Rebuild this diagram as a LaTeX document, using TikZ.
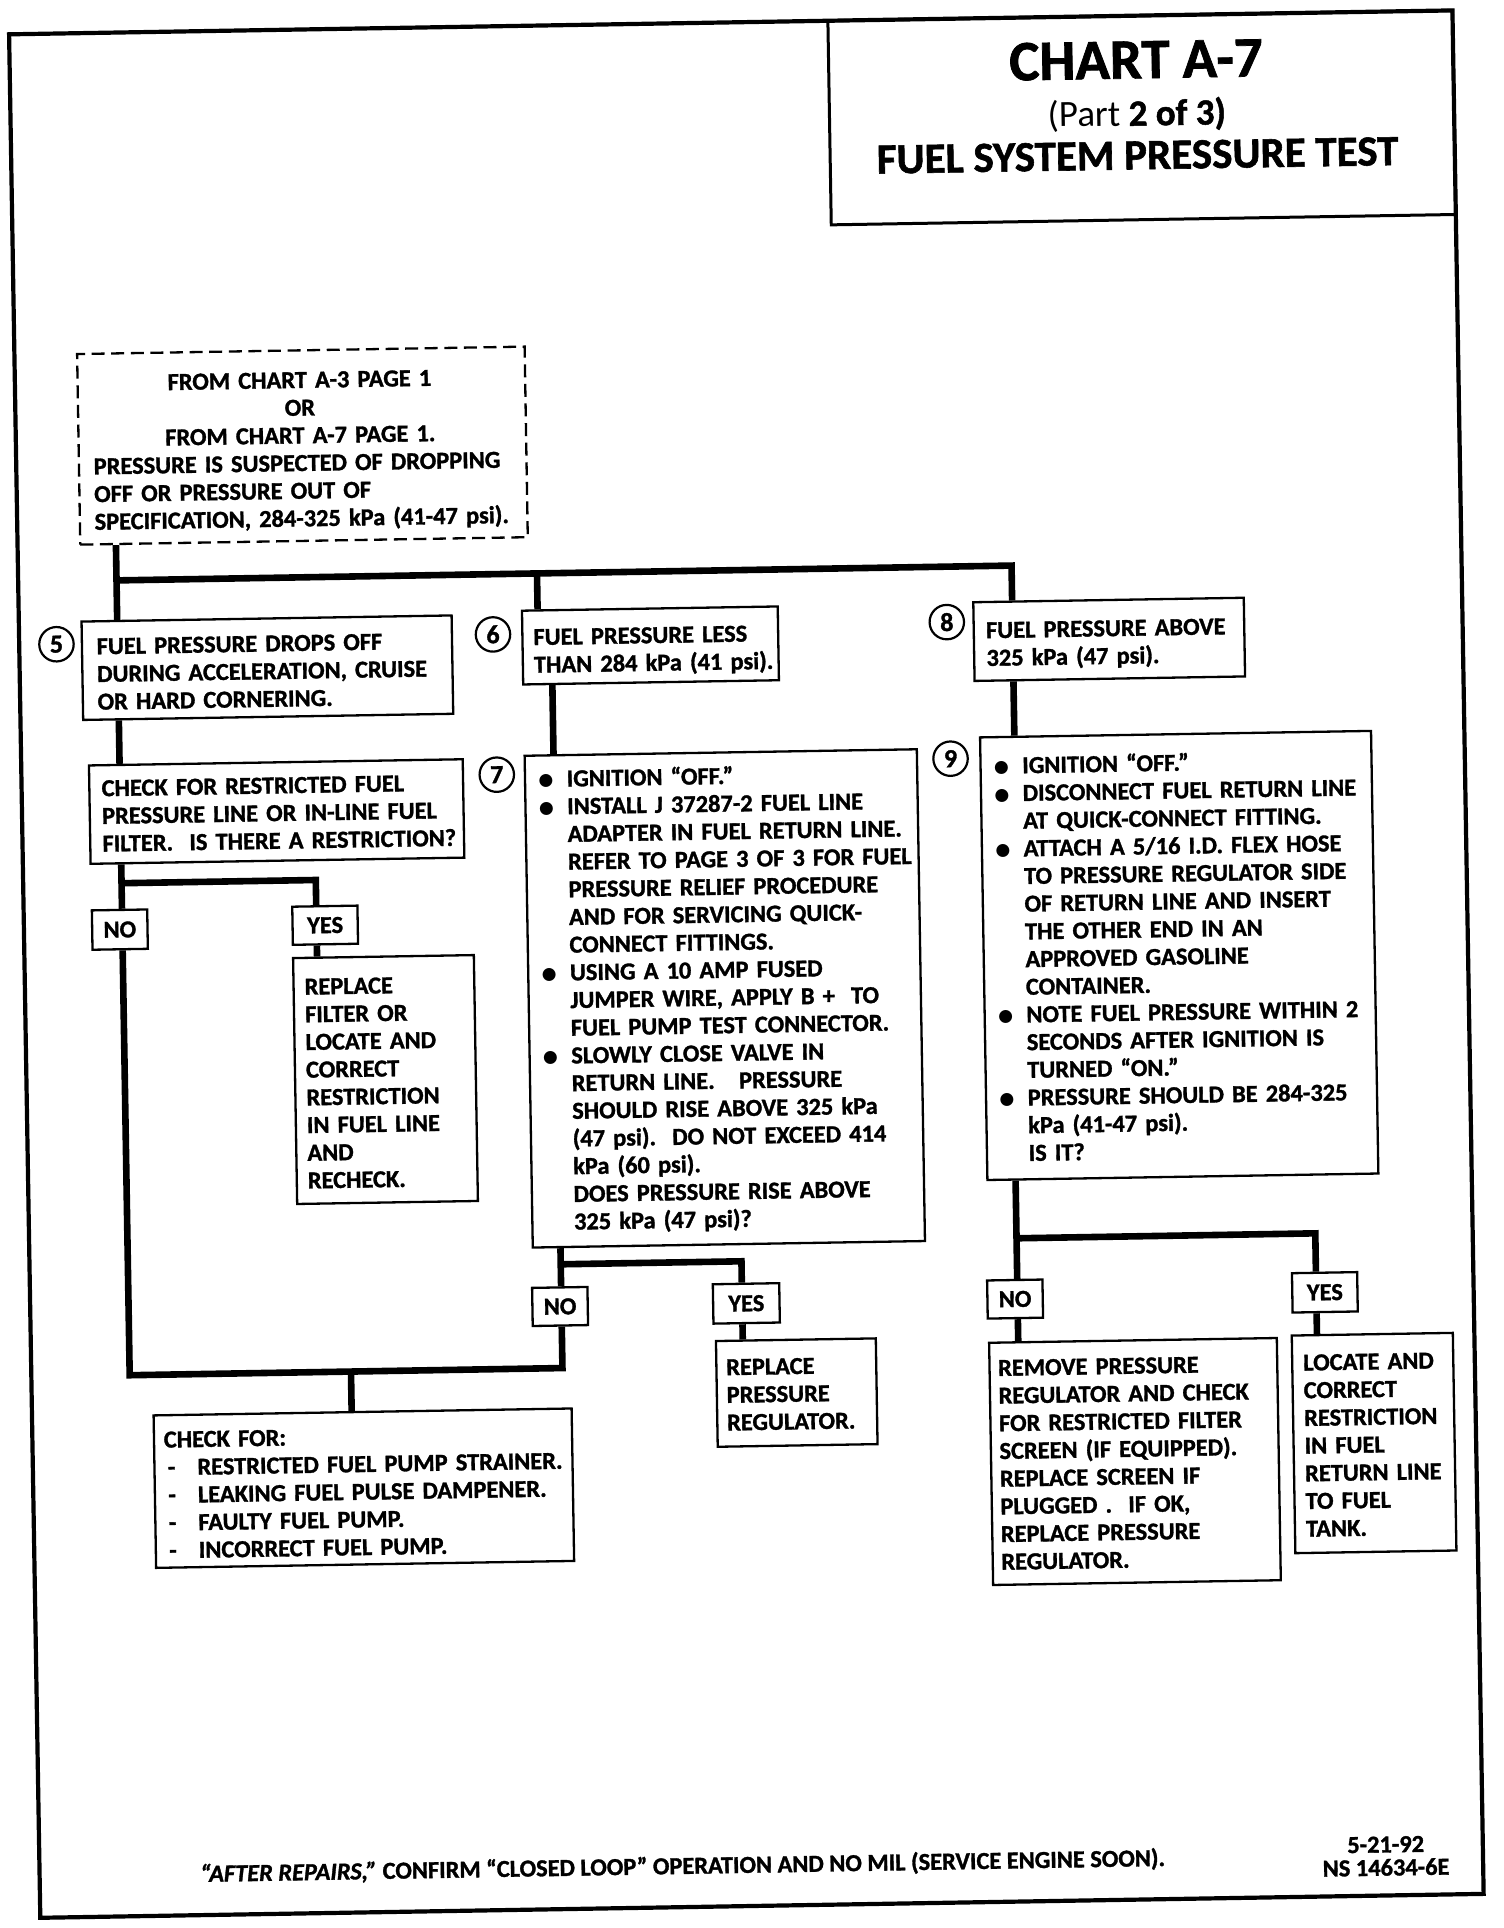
\documentclass[tikz,border=0pt]{standalone}
\usepackage{fontspec}
\setmainfont{Carlito}[BoldFeatures={FakeBold=1.3}, BoldItalicFeatures={FakeBold=1.3}]
\newfontfamily\symfont{DejaVu Sans}
\usetikzlibrary{calc}
\newcommand\tb[2][2.3pt]{\raisebox{-#1}[\height][\depth]{\begin{tabular}{@{}l@{}}#2\end{tabular}}}
\newcommand\bul{\makebox[14.1pt][l]{\raisebox{0.7pt}{\symfont\fontsize{8.5}{8.5}\selectfont ●}}}
\newcommand\ind{\hspace*{14.1pt}}
\newcommand\dsh{\makebox[16.6pt][l]{\hspace*{1.8pt}-}}
\newcommand\cl[1]{\multicolumn{1}{@{}c@{}}{#1}}
\tikzset{
  every node/.style={font=\bfseries\fontsize{12.2}{13.85}\selectfont},
  box/.style={draw, line width=1.15pt, fill=white, inner sep=0pt, align=left},
  wh/.style n args={3}{minimum width=#1*0.6149pt, minimum height=#2*0.6149pt, text width={(#1-2*#3)*0.6149pt}},
  lab/.style 2 args={draw, line width=1.15pt, fill=white, inner sep=0pt, align=center,
    minimum width=#1*0.6149pt, minimum height=#2*0.6149pt},
  conn/.style={line width=3.3pt},
  num/.style={circle, draw, line width=1.1pt, minimum size=28*0.6149pt, inner sep=0pt,
    font=\bfseries\fontsize{13}{14}\selectfont},
  ttl/.style={anchor=base, inner sep=0pt},
}
\begin{document}
\begin{tikzpicture}[x=0.6149pt,y=-0.6149pt]
\fill[white] (0,0) rectangle (1223,1568);
\useasboundingbox (0,0) rectangle (1223,1568);
\begin{scope}[transform canvas={rotate around={0.95:(611.5,784)}}]
% frame and title box
\draw[line width=2.1pt] (20,18) rectangle (1194,1550);
\node[draw, line width=1.5pt, minimum width=508*0.6149pt, minimum height=166*0.6149pt, inner sep=0pt] (tbox) at (940,101) {};
\node[ttl, font=\bfseries\fontsize{28.5}{30}\selectfont] (ttla) at (936,69) {CHART A-7};
\node[ttl, font=\fontsize{18.5}{20}\selectfont] (ttlb) at (936,107.5) {(Part \textbf{2 of 3)}};
\node[ttl, font=\bfseries\fontsize{21.5}{23}\selectfont] (ttlc) at (936,143) {FUEL SYSTEM PRESSURE TEST};

% boxes
\node[box, dashed, dash pattern=on 6.5pt off 3.3pt, wh={364}{155}{12}] (D) at (253,356.4) {\tb[3pt]{\cl{FROM CHART A-3 PAGE 1}\\ \cl{OR}\\ \cl{FROM CHART A-7 PAGE 1.}\\ PRESSURE IS SUSPECTED OF DROPPING\\ OFF OR PRESSURE OUT OF\\ SPECIFICATION, 284-325 kPa (41-47 psi).}};

\node[box, wh={301}{80}{12}] (b5) at (221.5,536.5) {\tb[3pt]{FUEL PRESSURE DROPS OFF\\ DURING ACCELERATION, CRUISE\\ OR HARD CORNERING.}};
\node[box, wh={208}{60}{9}] (b6) at (533.3,523.6) {\tb[3pt]{FUEL PRESSURE LESS\\ THAN 284 kPa (41 psi).}};
\node[box, wh={220}{64}{10}] (b8) at (906.4,524.8) {\tb[2.6pt]{FUEL PRESSURE ABOVE\\ 325 kPa (47 psi).}};

\node[num] (c5) at (50.3,514.6) {5};
\node[num] (c6) at (405.4,512.5) {6};
\node[num] (c8) at (774.6,508.6) {8};
\node[num] (c7) at (406.6,626.6) {7};
\node[num] (c9) at (775.8,619.7) {9};

\node[box, wh={304}{80}{10}] (R) at (227.1,653.6) {\tb[2pt]{CHECK FOR RESTRICTED FUEL\\ PRESSURE LINE OR IN-LINE FUEL\\ FILTER.\ \ IS THERE A RESTRICTION?}};

\node[box, wh={319}{400}{11}] (b7) at (589,811.6) {\tb[0.8pt]{%
\bul IGNITION ``OFF.''\\
\bul INSTALL J 37287-2 FUEL LINE\\
\ind ADAPTER IN FUEL RETURN LINE.\\
\ind REFER TO PAGE 3 OF 3 FOR FUEL\\
\ind PRESSURE RELIEF PROCEDURE\\
\ind AND FOR SERVICING QUICK-\\
\ind CONNECT FITTINGS.\\
\bul USING A 10 AMP FUSED\\
\ind JUMPER WIRE, APPLY B +\ \ TO\\
\ind FUEL PUMP TEST CONNECTOR.\\
\bul SLOWLY CLOSE VALVE IN\\
\ind RETURN LINE.\ \ \ PRESSURE\\
\ind SHOULD RISE ABOVE 325 kPa\\
\ind (47 psi).\ \ DO NOT EXCEED 414\\
\ind kPa (60 psi).\\
\ind DOES PRESSURE RISE ABOVE\\
\ind 325 kPa (47 psi)?}};

\node[box, wh={318}{360}{11}] (b9) at (959.1,782.8) {\tb[1.8pt]{%
\bul IGNITION ``OFF.''\\
\bul DISCONNECT FUEL RETURN LINE\\
\ind AT QUICK-CONNECT FITTING.\\
\bul ATTACH A 5/16 I.D. FLEX HOSE\\
\ind TO PRESSURE REGULATOR SIDE\\
\ind OF RETURN LINE AND INSERT\\
\ind THE OTHER END IN AN\\
\ind APPROVED GASOLINE\\
\ind CONTAINER.\\
\bul NOTE FUEL PRESSURE WITHIN 2\\
\ind SECONDS AFTER IGNITION IS\\
\ind TURNED ``ON.''\\
\bul PRESSURE SHOULD BE 284-325\\
\ind kPa (41-47 psi).\\
\ind IS IT?}};

\node[lab={45}{32}] (NO1) at (98,747.5) {NO};
\node[lab={53}{31}] (YES1) at (265,746.7) {YES};
\node[box, wh={147}{200}{9}] (F) at (312,873) {\tb[2.6pt]{REPLACE\\ FILTER OR\\ LOCATE AND\\ CORRECT\\ RESTRICTION\\ IN FUEL LINE\\ AND\\ RECHECK.}};

\node[lab={45}{31}] (NO2) at (450.9,1059.9) {NO};
\node[lab={54}{32}] (YES2) at (602.4,1059.9) {YES};
\node[box, wh={130}{86}{8}] (G) at (642.2,1133.1) {\tb[1.8pt]{REPLACE\\ PRESSURE\\ REGULATOR.}};

\node[box, wh={340}{124}{8}] (C) at (288.9,1205) {\tb[3pt]{CHECK FOR:\\
\dsh RESTRICTED FUEL PUMP STRAINER.\\
\dsh LEAKING FUEL PULSE DAMPENER.\\
\dsh FAULTY FUEL PUMP.\\
\dsh INCORRECT FUEL PUMP.}};

\node[lab={45}{31}] (NO3) at (821,1060) {NO};
\node[lab={53}{32}] (YES3) at (1073,1058.7) {YES};
\node[box, wh={234}{197}{7}] (M) at (916.3,1193.7) {\tb[1.8pt]{REMOVE PRESSURE\\ REGULATOR AND CHECK\\ FOR RESTRICTED FILTER\\ SCREEN (IF EQUIPPED).\\ REPLACE SCREEN IF\\ PLUGGED .\ \ IF OK,\\ REPLACE PRESSURE\\ REGULATOR.}};
\node[box, wh={131}{177}{9}] (L) at (1111,1181.9) {\tb[2pt]{LOCATE AND\\ CORRECT\\ RESTRICTION\\ IN FUEL\\ RETURN LINE\\ TO FUEL\\ TANK.}};

% footer
\node[anchor=base] (foot) at (543,1523) {\textit{``AFTER REPAIRS,''} CONFIRM ``CLOSED LOOP'' OPERATION AND NO MIL (SERVICE ENGINE SOON).};
\node[align=center, font=\bfseries\fontsize{12.2}{11.6}\selectfont] (date) at (1115,1518) {5-21-92\\NS 14634-6E};

% connectors
\coordinate (t1) at (100,463.5);
\coordinate (t6) at (442,463.5);
\coordinate (t8) at (828,463.5);
\draw[conn] (D.south -| t1) -- (b5.north -| t1);
\draw[conn] (t1) -- (t8) -- (b8.north -| t8);
\draw[conn] (t6) -- (b6.north -| t6);
\draw[conn] (b5.south -| t1) -- (R.north -| t1);
\coordinate (x7) at (453,580);
\draw[conn] (b6.south -| x7) -- (b7.north -| x7);
\draw[conn] (b8.south -| t8) -- (b9.north -| t8);
\coordinate (r1) at (100,709.8);
\coordinate (r2) at (258,709.8);
\draw[conn] (R.south -| r1) -- (NO1.north -| r1);
\draw[conn] (r1) -- (r2) -- (YES1.north -| r2);
\draw[conn] (YES1.south -| r2) -- (F.north -| r2);
\coordinate (l1) at (100,1110);
\coordinate (l2) at (452,1110);
\draw[conn] (NO1.south -| l1) -- (l1) -- (l2) -- (NO2.south -| l2);
\coordinate (cc) at (280,1110);
\draw[conn] (cc) -- (C.north -| cc);
\coordinate (s1) at (452,1025.6);
\coordinate (s2) at (599,1025.6);
\draw[conn] (b7.south -| s1) -- (NO2.north -| s1);
\draw[conn] (s1) -- (s2) -- (YES2.north -| s2);
\draw[conn] (YES2.south -| s2) -- (G.north -| s2);
\coordinate (u1) at (823,1010.6);
\coordinate (u2) at (1066,1010.6);
\draw[conn] (b9.south -| u1) -- (NO3.north -| u1);
\draw[conn] (u1) -- (u2) -- (YES3.north -| u2);
\draw[conn] (NO3.south -| u1) -- (M.north -| u1);
\draw[conn] (YES3.south -| u2) -- (L.north -| u2);
\end{scope}
\end{tikzpicture}
\end{document}
